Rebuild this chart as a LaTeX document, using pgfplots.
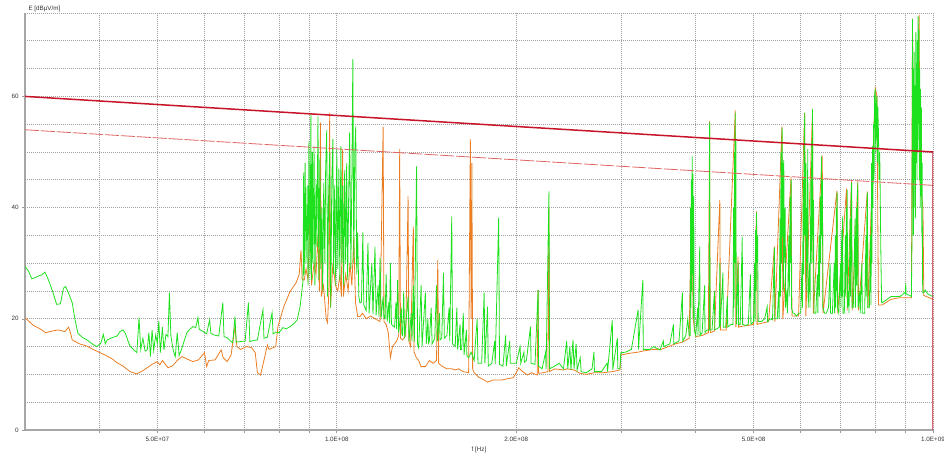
\documentclass[border=0pt]{standalone}
\usepackage{pgfplots}
\pgfplotsset{compat=1.18}
\usepackage{fontspec}
\setmainfont{Liberation Sans}
\definecolor{gr}{RGB}{30,225,30}
\definecolor{og}{RGB}{235,125,35}
\definecolor{lim}{RGB}{200,20,40}
\definecolor{lim2}{RGB}{225,100,100}
\begin{document}
\begin{tikzpicture}
\path[use as bounding box] (0,0) rectangle (944bp,457bp);
\begin{axis}[
  at={(25bp,27bp)}, anchor=south west,
  scale only axis, width=908bp, height=417bp,
  xmode=log, xmin=30, xmax=1000, ymin=0, ymax=75,
  axis lines=left, axis line style={-, draw=gray!70, line width=1.2bp},
  xtick={40,50,60,70,80,90,100,200,300,400,500,600,700,800,900,1000},
  xticklabels={,5.0E+07,,,,,1.0E+08,2.0E+08,,,5.0E+08,,,,,1.0E+09},
  ytick={0,20,40,60},
  minor ytick={5,10,15,25,30,35,45,50,55,65,70,75},
  grid=both,
  major grid style={dash pattern=on 0.7bp off 1.3bp, gray!75, line width=0.7bp},
  minor grid style={dash pattern=on 0.7bp off 1.3bp, gray!75, line width=0.7bp},
  tick align=outside, major tick length=3bp, minor tick length=0bp,
  tick style={gray!80, line width=0.6bp},
  ticklabel style={font=\fontsize{6.3}{7}\selectfont, text=black!80},
  xticklabel style={yshift=-1bp},
  /pgf/number format/assume math mode=true,
  xlabel={f [Hz]},
  xlabel style={at={(axis description cs:0.5,0)}, anchor=center, yshift=-20bp, font=\fontsize{6.3}{7}\selectfont, text=black!80},
  ylabel={E [dB\textmu V/m]},
  ylabel style={rotate=-90, at={(axis description cs:0,1)}, anchor=base west, yshift=3bp, xshift=0bp, font=\fontsize{6.3}{7}\selectfont, text=black!80},
  clip=true,
]
% orange trace
\addplot[og, line width=0.8bp] coordinates {
(30,20.2)(30.5,19.5)(31,18.8)(31.8,18.2)(32.5,17.5)(33.3,17.8)(34.1,18)(35,17.7)(35.5,18.5)(35.8,17.3)(36,16.2)(37,15.5)(38.1,15.1)(39,14.5)(40.1,13.9)(41.2,13.3)(42,12.8)(42.8,12.1)(43.8,11.5)(45,10.5)(46.2,10.1)(47,10.5)(48.1,11.2)(49,11.8)(50,12.3)(50.5,11.7)(51,12.5)(52.1,11.2)(53,11.5)(54,12.5)(55,13.2)(56,12.8)(57.4,12.3)(58.6,12.6)(60,13.9)(60.5,11.4)(61,12.5)(62.5,12.6)(64,14.4)(64.5,13)(65.5,12.3)(66.5,13.5)(67.5,18.6)(68,15)(69,14.5)(70.5,15)(72,14.8)(73,13.9)(73.6,10.3)(74.5,9.9)(75.3,12)(76.5,15.3)(77,14.5)(79,15)(79.7,18.6)(81.5,22.2)(83.5,24.9)(85.5,26.5)(86.5,28)(87.1,32.4)(87.5,27)
(88.2,27)(88.8,29)(89.5,27)(90.2,40)(90.7,26)(91.6,30)(92.3,28)(93,35)(93.5,25)(93.9,55.3)(94.2,24)(95,26)(96,20)(96.5,19.3)(97,25)(97.3,57.1)(97.6,22)(98.5,30)(99.5,26)(100.4,25)(101.2,28)(101.8,24)(102.3,50.5)(102.6,24)(103.5,28)(104.5,25)(105.2,30)(106,26)(106.8,34.8)(107.5,23)(108.4,20.4)(109.3,20.4)
(110.5,21)(112,20)(114,20.5)(115.9,20)(118.2,19.5)(119.6,54.5)(120,19.5)(121,19)(122,17.5)(123,13)(124,15)(126,16)(127,17)(127.5,50.5)(127.9,16.5)(129,16.2)(130.5,17)(131.7,42)(132.1,16)(133,15)(134.4,36.6)(134.8,14)(136,13)(137.2,12.5)(138.5,11.4)(140.8,11.4)(143,12.5)(145,12)(147,12.5)(147.7,30.6)(148.2,12)(150,11.5)(153,11)(155.9,11)(158,10.8)(160,11)(163,10.5)(166.4,10.3)(167.5,52.3)(168,20)(168.5,48)(169,11)(170,10.3)(173,9.5)(176.7,9)(179,8.6)(183,9)(186.9,9)(189.4,9)(193,9.2)(197.7,9.4)(200,10.3)(202,11.2)(205,10.5)(208.8,9.9)(212,10.3)(216.8,9.9)(217.6,25.2)(218,10.2)(222,10.3)(226,10.5)(226.9,40)(227.4,10.5)(232,11)(240,10.8)
(243,11)(250,10.8)(256,10.2)(262,10)(270,10.3)(280,10.3)(290,10.5)(298.5,10.8)(299.5,13.5)(310,13.8)(320,14)(326,14.2)(340,14.5)(350,14.5)(360,15)(370,15.5)(380,15.8)(390,16.5)(394,45)(396,20)(400,16.8)(410,17)(420,17.5)(422,55.5)(423,17.5)(430,17.8)(439,41.4)(440,18)(450,18)(466,57.5)(467,18.5)(471,31.2)(472,18.5)(480,18.7)(490,18.8)(500,19)(505.8,39.3)(507,19)(520,19.3)(530,19.5)(542,33)(543,19.5)(558,54.6)(560,20)(578,45.5)(580,20.5)(595,20.5)(609,57)(612,20.5)(628,57.5)(630,21)(652,49.4)(654,21)(690,43)(692,21)(716,43.4)(718,21.5)(730,44.7)(732,21.5)(748,44.7)(750,21.5)(776,42.9)(778,22)(800,61.5)(805,60.2)(810,22.5)(822,22.5)(850,23.5)(880,23.8)(920,23.8)(924,74)(926,40)(948,74.6)(950,45)(962,40)(965,24.2)(1000,23.5)
};
% green trace
\addplot[gr, line width=0.8bp] coordinates {
(30,29.4)(30.4,28.6)(30.8,27.2)(31.2,27.4)(31.6,27.7)(32,27.9)(32.4,28.4)(32.7,27.5)(33,26.4)(33.4,24.8)(33.9,22.6)(34.4,22.7)(34.8,25.5)(35.1,25.8)(35.5,24.6)(36,22.9)(36.4,19.8)(36.8,17.4)(37.4,16.7)(38.1,16.2)(39,15.4)(39.6,15)(40.2,15.6)(40.6,17.2)(40.9,15.5)(41.2,16.2)(42,16.6)(42.8,16.9)(43.3,17.7)(43.8,18)(44.2,17.4)(44.6,16.2)(45,15.1)(45.5,14.6)(46.2,13.9)(46.6,20.2)(46.9,14.5)(47.3,16.5)(47.7,14.2)(48.1,14.4)(48.4,17.5)(48.7,13.2)(49,18)(49.3,14.3)(49.7,17.1)(50,15.6)(50.3,19.6)(50.6,13.9)(51,18.5)(51.3,14.4)(51.7,17.2)(52.1,16.8)(52.4,24.7)(52.7,16.9)(53.2,14.2)(53.6,13.2)(54,17.5)(54.4,13.4)(54.9,14.5)(55.5,16.1)(56.1,17.6)(56.8,18.2)(57.4,18.6)(58,18.4)(58.5,20.2)(58.8,18.1)(59.7,17.7)(60.5,17.3)(61.2,19.8)(61.5,17.4)(62.2,17.1)(63.4,16.9)(64.4,22.9)(64.7,16.8)(65.5,16.6)(66.3,16)(66.9,15.7)(67.5,20.4)(67.8,15.8)(68.9,15.9)(70.2,16)(71.1,22.9)(71.5,15.9)(72.5,16.1)(73.6,16.2)(75.2,21.6)(75.5,16.5)(76.5,16.7)(77.9,21.1)(78.2,17.3)(79,17.6)(80,17.5)(81.2,18.4)(82.3,18.2)(83.5,18.6)(84.7,19.1)(85.8,19.8)(86.8,22.2)(87.4,25)(87.8,27)
(88,46.3)(88.2,28)(88.5,48)(88.8,30)(89.2,44)(89.5,26)(89.8,52)(90.2,28)(90.5,57)(90.7,27)(91,50)(91.2,30)(91.6,51)(91.9,26)(92.3,45)(92.6,33)(93,56.4)(93.3,27)(93.7,49)(94,29)(94.4,40)(94.7,25)(95.1,44.5)(95.5,30)(95.8,47)(96.2,54)(96.5,24)(96.9,42)(97.3,50)(97.7,22)(98.1,45)(98.5,52.3)(98.8,28)(99.2,44)(99.6,26)(100,50.5)(100.4,29)(100.8,47)(101.2,27)(101.6,51)(102,30)(102.3,44)(102.7,26)(103.1,46.8)(103.5,30)(103.9,48)(104.3,27)(104.7,42)(105.1,53.5)(105.6,29)(106,45)(106.4,66.7)(106.8,30)(107.2,50)(107.6,54.6)(108,28)(108.4,35.5)(108.9,24)(109.3,22.9)
(110,23)(110.6,35.5)(111,22.5)(112,21.5)(112.8,33.7)(113.3,21)(114.5,30)(115,20.8)(115.9,33)(116.4,20.6)(117.3,26)(117.7,20.4)(118.2,31)(118.7,20.2)(119.6,24)(120,20.1)(120.5,20)(121,28)(121.5,19.5)(122.3,23)(122.6,19.2)(123,30)(123.5,19)(125,18.5)(125.7,23)(126,18.2)(126.5,27)(127,17.5)(128.3,22)(128.6,17.2)(129,17)(129.5,25)(130,16.5)(131.7,24)(132.2,16)(133.3,21)(133.7,16)(134.4,26)(134.9,15.8)(136.1,47.4)(136.6,15.5)(137.2,14.8)(138.5,26)(139,15)(140.8,24.7)(141.3,15.5)(142.2,20)(142.5,15.6)(143,16)(144,22)(144.5,15.5)(146,16.5)(147,26)(147.5,16)(148.7,21)(149,16.2)(150,16.5)(151,28.3)(151.5,16.5)(153,17)(154.3,22)(154.7,16)(155.9,38.4)(156.4,15.5)(158,15)(159,22)(159.5,14.5)(161,19)(161.3,14.5)(162,14.5)(163,21)(163.5,13.5)(165,18)(165.3,13.3)(166.4,13)(168,14)(170,12.5)(172,20)(172.5,12)(175,12)(176.7,24.7)(177.2,12)(179,22.2)(179.5,11.5)(182,12)(184,16)(184.4,11.9)(186.9,38.2)(187.5,11.8)(190,11.5)(192,17)(192.5,11.5)(195,16)(195.5,12)(200,12)(203,15)(203.5,12)(206,14)(206.4,12.2)(208,12.5)(211.3,18.6)(211.8,12)(215,11.8)(217.6,25.2)(218,11.5)(221,11)(224,14)(224.4,11)(226.9,42.9)(227.5,11)(232,11.5)(236,12)
(240,11)(243,16)(244,11)(246,15)(247,10.8)(249,16.2)(250,11)(252,15.5)(253,10.8)(256,13)(257,10.5)(262,10.3)(268,11)(270,14)(270.5,10.5)(278,10.5)(284,12)(284.5,10.5)(289.8,19.8)(290.3,10.8)(295.5,16.5)(296,11)(298.5,11)(299.5,13.9)(305,14)(312,14.5)(320.2,21.6)(320.7,14.5)(326.1,27)(326.6,14.5)(335,14.5)(340,15)(348.4,14.4)(353,16)(353.5,15)(362,15.5)(367,19)(367.5,15.5)(375,16)(380,24.7)(380.5,16)(385,17)(388,20)
(390,17)(391.6,17)(392.2,40)(392.8,22)(393.4,45)(394,25)(394.6,49.2)(395.2,28)(395.8,46)(396.4,20)(397,42)(397.6,18)(400,17)(403,22)(403.5,17)(406.2,33)(406.8,17)(410,17.5)(414,26)(414.5,17.5)(418,18)(421.4,18)(422,55.3)(422.6,18)(426,18)(430,25)(430.5,18)(434,18.2)(438,18.5)(439,30)(439.6,18.5)(444.3,28.3)(445,18.5)(449,18.5)(452,24)(452.5,18.5)(458,19)(462,19)(463,40)(463.8,22)(464.6,50)(465.2,30)(465.8,57.1)(466.4,36)(467,52)(467.6,25)(468.3,19)(471.3,30)(472,19)(475,19)(478.7,34.8)(479.4,19)(485,18.8)(490,19)(494,28)(495,19)(500,19.5)(502,30)(503,19.5)(504,36)(505,25)(505.8,39.1)(507,30)(508,35)(509,19.5)(515,19.5)(522,20)(527,22.2)(528,19.5)(533,20)(538,19.8)(542,32.8)(542.8,20)(548,20)(551,25)(552,20)(554,38)(555,24)(556,50)(557,30)(558.3,54.4)(559,35)(560,48)(561,25)(562,48.6)(563,30)(565,40)(566,22)(569,25.2)(570,21)(573,35)(574,24)(576,42)(577,30)(578.1,45)(579,22)(582,21)(585,21)(590,20.5)(595,21)(600,21)(603,30)(604,22)(606,45)(607,28)(608,52)(609.4,57.1)(610,35)(612,48)(613,25)(614,40)(615,30)(616.5,50.5)(617.5,22)(621,30)(622,22)(624,45)(625,30)(626,52)(627,35)(628,57.7)(629,30)(630.5,41.4)(631.5,21)(636,21)(640,28)(641,21)(644,35)(645,24)(647,42)(648,30)(650,49.2)(651,35)(652.5,45)(653.5,22)(658,21)(662,21)(668,22)(672,30)(673,21)(678,21)(683,30)(684,21)(686,35)(687,22)(688.5,40)(689.5,25)(690.5,42.7)(691.5,22)(695,21)(700,30)(701,22)(703,36)(704,24)(705.5,38.4)(706.5,21)(710,21)(713,35)(714,24)(716,40)(717,28)(718,43.2)(719,22)(722,25)(723,21)(726,38)(727,24)(729,42)(730.4,44.5)(731.5,22)(735,22)(740,38)(741,22)(744,40)(745,26)(747.7,44.5)(749,22)(754,25)(755,21)(760,30)(761,21)(768,21)(772,35)(773,24)(775,40)(776.3,42.7)(777.5,22)(782,22)(786,35)(787,22.5)(789,48)(790,30)(791.9,51)(793,40)(795,55)(796.5,45)(798,60)(800,61.3)(801.5,50)(803,58)(805,60)(806.5,48)(808,58.2)(810,53.5)(812,45)(814,50)(816,40)(818,30)(820,23)(822,22.9)(830,23.2)(840,23.6)(850,24)(860,24)(870,24)(880,24)(890,24.4)(895,24.7)(899,24.5)(900,26.5)(901,24.5)(908,24.3)(915,24.2)(920,24)(922,35)(923,60)(924,73.9)(925,45)(926,65)(927,35)(928,58)(929,40)(930,68)(931,45)(933,62)(934,38)(936,71.5)(937,48)(938,66)(940,45)(941,70)(943,50)(944,74.4)(946,55)(947,72)(949,45)(950,65)(952,40)(953,61.3)(955,42)(956,58)(958,35)(959,48)(960,30)(961,24.7)(965,24.7)(970,25.2)(975,24.8)(980,24.5)(990,24.2)(1000,24)
};
% limit lines
\addplot[lim2, line width=0.8bp, dash pattern=on 14bp off 2bp] coordinates {(30,54) (1000,44)};
\addplot[lim, line width=1.5bp] coordinates {(30,60) (1000,50) (1000,0)};
\end{axis}
\end{tikzpicture}
\end{document}
